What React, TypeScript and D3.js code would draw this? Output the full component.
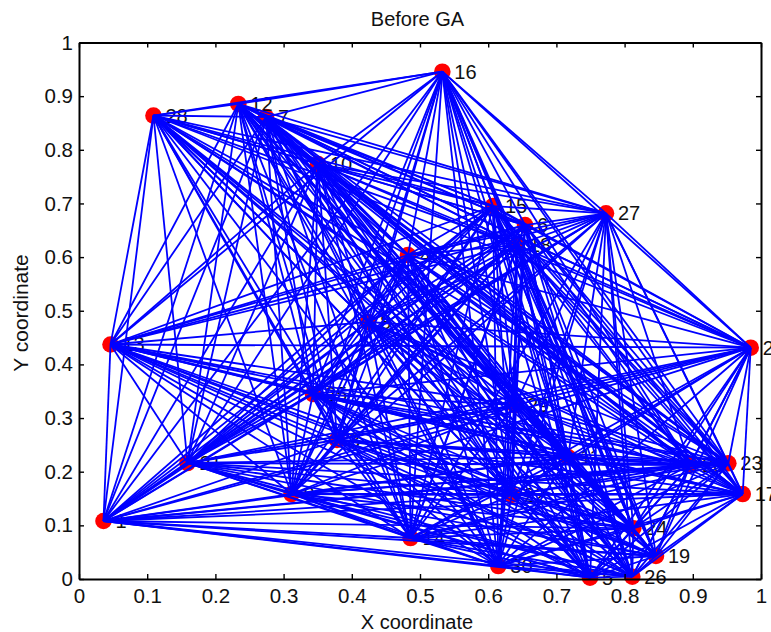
import React, { useEffect, useRef } from "react";
import * as d3 from "d3";

const nodeLabels = ["1", "2", "3", "4", "5", "6", "7", "8", "9", "10", "11", "12", "13", "14", "15", "16", "17", "18", "19", "20", "21", "22", "23", "24", "25", "26", "27", "28", "29", "30"];
const nodeX = [0.0359, 0.9849, 0.3783, 0.4824, 0.7493, 0.654, 0.2742, 0.4238, 0.3116, 0.3504, 0.717, 0.2336, 0.0462, 0.4861, 0.607, 0.5327, 0.9732, 0.6422, 0.846, 0.8959, 0.1591, 0.6345, 0.9521, 0.8127, 0.3431, 0.8113, 0.7727, 0.1092, 0.6393, 0.6148];
const nodeY = [0.1081, 0.4311, 0.2591, 0.6039, 0.0024, 0.6598, 0.8611, 0.479, 0.1584, 0.7735, 0.2274, 0.8854, 0.4371, 0.0764, 0.6952, 0.9456, 0.1584, 0.6226, 0.0429, 0.2125, 0.2162, 0.1566, 0.2157, 0.0945, 0.3448, 0.0043, 0.6816, 0.8639, 0.3243, 0.0242];
const xTicks = [0, 0.1, 0.2, 0.3, 0.4, 0.5, 0.6, 0.7, 0.8, 0.9, 1];
const yTicks = [0, 0.1, 0.2, 0.3, 0.4, 0.5, 0.6, 0.7, 0.8, 0.9, 1];

const App = () => {
  const chartRef = useRef<SVGSVGElement>(null);

  useEffect(() => {
    const svg = d3.select(chartRef.current);
    svg.selectAll("*").remove();

    const width = 771;
    const height = 632;
    const margin = { top: 42.5, right: 10, bottom: 53, left: 79 };
    const font = "Liberation Sans, Arial, sans-serif";
    const ink = "#111";

    const x = d3.scaleLinear().domain([0, 1]).range([margin.left, width - margin.right]);
    const y = d3.scaleLinear().domain([0, 1]).range([height - margin.bottom, margin.top]);

    const nodes = nodeLabels.map((label, i) => ({ label, x: nodeX[i], y: nodeY[i] }));

    // markers and labels first, the network is drawn over them
    svg.selectAll(".node")
      .data(nodes)
      .enter()
      .append("circle")
      .attr("cx", (d) => x(d.x))
      .attr("cy", (d) => y(d.y))
      .attr("r", 8.3)
      .attr("fill", "#ff0000");

    svg.selectAll(".label")
      .data(nodes)
      .enter()
      .append("text")
      .attr("x", (d) => x(d.x) + 12)
      .attr("y", (d) => y(d.y) + 7)
      .attr("font-family", font)
      .attr("font-size", 20)
      .attr("fill", ink)
      .text((d) => d.label);

    // every node is linked to every other node
    const edges = nodes.flatMap((a, i) => nodes.slice(i + 1).map((b) => [a, b]));
    svg.append("g")
      .selectAll("line")
      .data(edges)
      .enter()
      .append("line")
      .attr("x1", (d) => x(d[0].x))
      .attr("y1", (d) => y(d[0].y))
      .attr("x2", (d) => x(d[1].x))
      .attr("y2", (d) => y(d[1].y))
      .attr("stroke", "#0000ff")
      .attr("stroke-width", 1.8);

    const styleAxis = (g) => {
      g.select(".domain").attr("stroke", "#000").attr("stroke-width", 2);
      g.selectAll(".tick line").attr("stroke", "#000").attr("stroke-width", 1.4);
      g.selectAll("text").attr("font-family", font).attr("font-size", 20.5).attr("fill", ink);
    };

    svg.append("g")
      .attr("transform", `translate(0,${height - margin.bottom})`)
      .call(d3.axisBottom(x).tickValues(xTicks).tickSizeInner(-5).tickSizeOuter(0).tickPadding(9.5).tickFormat((d) => String(d)))
      .call(styleAxis);

    svg.append("g")
      .attr("transform", `translate(${margin.left},0)`)
      .call(d3.axisLeft(y).tickValues(yTicks).tickSizeInner(-5).tickSizeOuter(0).tickPadding(6).tickFormat((d) => String(d)))
      .call(styleAxis);

    svg.append("g")
      .attr("transform", `translate(0,${margin.top})`)
      .call(d3.axisTop(x).tickValues(xTicks).tickSizeInner(-5).tickSizeOuter(0).tickFormat(() => ""))
      .call(styleAxis);

    svg.append("g")
      .attr("transform", `translate(${width - margin.right},0)`)
      .call(d3.axisRight(y).tickValues(yTicks).tickSizeInner(-5).tickSizeOuter(0).tickFormat(() => ""))
      .call(styleAxis);

    svg.append("text")
      .attr("x", 417.5)
      .attr("y", 25.5)
      .attr("text-anchor", "middle")
      .attr("font-family", font)
      .attr("font-size", 20)
      .attr("fill", ink)
      .text("Before GA");

    svg.append("text")
      .attr("x", 417)
      .attr("y", 629)
      .attr("text-anchor", "middle")
      .attr("font-family", font)
      .attr("font-size", 20)
      .attr("fill", ink)
      .text("X coordinate");

    svg.append("text")
      .attr("transform", "translate(28,313) rotate(-90)")
      .attr("text-anchor", "middle")
      .attr("font-family", font)
      .attr("font-size", 21)
      .attr("fill", ink)
      .text("Y coordinate");
  }, []);

  return <svg ref={chartRef} width={771} height={632} style={{ position: "absolute", left: 0, top: 0 }}></svg>;
};

export default App;
